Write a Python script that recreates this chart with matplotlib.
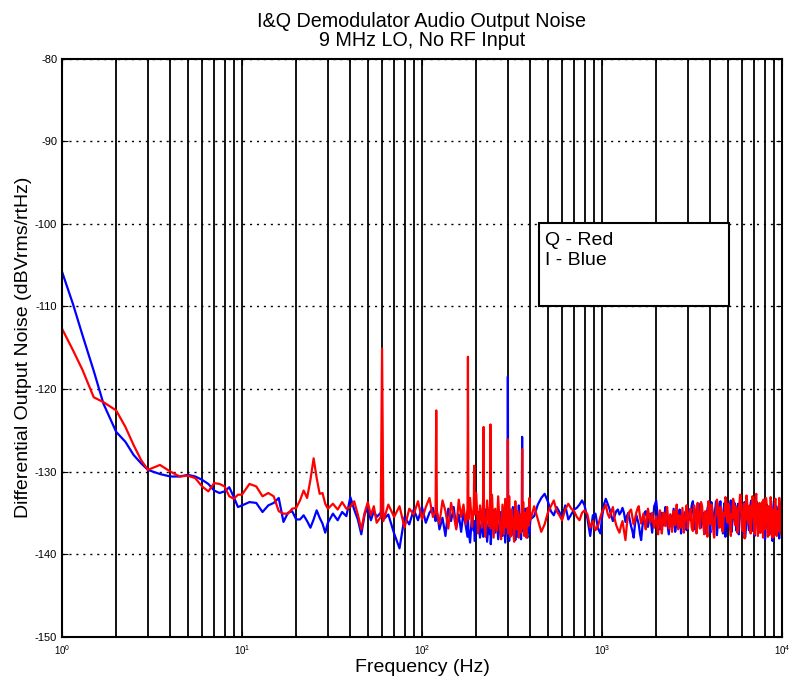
import matplotlib
matplotlib.use('Agg')
import matplotlib.pyplot as plt
from matplotlib.patches import Rectangle
from matplotlib.ticker import LogLocator, NullFormatter

plt.rcParams['font.family'] = ['Liberation Sans', 'DejaVu Sans']
plt.rcParams['mathtext.fontset'] = 'custom'
plt.rcParams['mathtext.rm'] = 'Liberation Sans'
plt.rcParams['mathtext.default'] = 'regular'
plt.rcParams['axes.unicode_minus'] = False

# --- data (Hz, dBVrms/rtHz) ---
# 1..20 Hz
freq_a = [1.0, 1.15, 1.3, 1.5, 1.7, 2.0, 2.25, 2.5, 2.75, 3.0, 3.5, 4.0, 4.5, 5.0, 5.5, 6.0, 6.5,
          7.0, 7.5, 8.0, 8.5, 9.0, 9.5, 10, 11, 12, 13, 14, 15, 16, 17, 18, 19, 20]
q_a = [-112.7, -115.3, -117.7, -121.0, -121.6, -122.6, -124.6, -126.8, -128.6, -129.8, -129.2,
       -130.0, -130.6, -130.5, -130.8, -131.8, -132.4, -131.4, -131.5, -131.8, -133.0, -133.3,
       -132.8, -132.8, -131.5, -131.8, -133.0, -132.6, -133.0, -134.8, -135.1, -135.1, -134.5, -134.4]
i_a = [-105.8, -109.7, -113.5, -117.8, -121.8, -125.2, -126.4, -128.0, -129.0, -129.8, -130.3,
       -130.6, -130.6, -130.4, -130.6, -131.0, -131.5, -132.3, -132.6, -132.4, -131.9, -133.1,
       -134.3, -134.1, -133.7, -133.8, -134.9, -134.1, -133.8, -133.2, -136.1, -135.0, -134.8, -135.8]

# 20..60 Hz
freq_b = [21, 22, 23, 24, 25, 26, 27, 28, 29, 30, 32, 34, 36, 38, 40, 42, 44, 46, 48, 50, 52, 54, 56]
q_b = [-133.5, -132.3, -133.2, -131.0, -128.4, -130.8, -132.7, -132.6, -133.9, -134.5, -133.9,
       -134.6, -133.7, -134.5, -134.3, -133.6, -135.2, -137.0, -135.0, -133.7, -135.3, -134.2, -136.2]
i_b = [-135.8, -135.3, -136.0, -136.8, -135.8, -134.7, -135.6, -136.3, -137.4, -136.2, -135.1,
       -135.9, -134.9, -135.4, -133.1, -134.6, -135.8, -137.6, -135.2, -134.3, -135.9, -134.8, -135.5]

# 60..400 Hz (mains harmonics)
freq_c = [59, 60, 61, 65, 70, 75, 80, 85, 90, 95, 100, 105, 110, 115, 119, 120, 121, 125, 130, 135,
          140, 145, 150, 155, 160, 165, 170, 175, 179, 180, 181, 185, 190, 194, 195, 196, 200, 205,
          210, 215, 219, 220, 221, 225, 230, 235, 239, 240, 241, 245, 250, 255, 260, 265, 270, 275,
          280, 285, 290, 295, 299, 300, 301, 305, 310, 315, 320, 325, 330, 335, 340, 345, 350, 355,
          359, 360, 361, 365, 370, 375, 380, 385, 390, 395, 400]
q_c = [-135.5, -115.1, -136.0, -134.0, -135.5, -134.2, -136.8, -134.5, -135.2, -133.6, -135.8,
       -134.3, -133.2, -135.5, -134.8, -122.6, -135.0, -136.3, -133.5, -134.8, -136.9, -133.8,
       -135.2, -137.0, -133.4, -135.5, -134.0, -136.4, -134.5, -116.1, -135.8, -133.2, -136.7,
       -134.0, -129.3, -135.2, -132.6, -137.5, -134.1, -136.8, -133.0, -124.6, -135.4, -137.9,
       -133.5, -136.6, -134.2, -124.3, -136.9, -132.8, -138.0, -134.5, -137.2, -133.0, -136.5,
       -138.2, -134.0, -137.6, -133.3, -136.8, -134.4, -126.1, -137.5, -133.0, -137.9, -134.6,
       -136.2, -138.5, -133.6, -137.0, -134.8, -138.0, -135.2, -137.4, -134.1, -127.3, -136.8,
       -133.7, -137.8, -135.0, -138.0, -134.4, -136.6, -133.2, -135.9]
i_c = [-135.0, -134.0, -135.8, -135.2, -137.5, -139.3, -135.5, -136.4, -134.6, -135.9, -134.3,
       -136.2, -135.0, -134.4, -136.0, -135.2, -134.7, -137.0, -135.6, -137.8, -134.5, -136.0,
       -134.3, -136.8, -135.2, -137.3, -134.9, -136.6, -137.9, -135.5, -136.9, -138.6, -135.0,
       -137.2, -136.0, -138.4, -136.8, -134.9, -138.0, -136.1, -137.9, -135.3, -137.0, -134.6,
       -138.5, -136.2, -137.6, -135.8, -138.8, -136.4, -134.7, -137.4, -135.5, -138.2, -136.3,
       -134.9, -137.8, -135.2, -138.6, -136.0, -137.3, -118.5, -136.6, -138.4, -135.0, -137.7,
       -134.3, -136.9, -138.3, -135.6, -137.9, -134.1, -136.8, -138.2, -136.0, -125.8, -137.2,
       -134.9, -137.6, -134.5, -136.9, -138.0, -135.3, -137.4, -135.8]

# 400..1000 Hz
freq_d = [420, 440, 460, 480, 500, 520, 540, 560, 580, 600, 625, 650, 675, 700, 725, 750, 775,
          800, 830, 860, 890, 920, 950, 980, 1000]
q_d = [-134.2, -135.8, -137.3, -136.4, -135.0, -134.2, -133.5, -134.8, -135.3, -135.9, -134.6,
       -133.9, -134.5, -134.8, -135.5, -135.9, -135.0, -134.7, -135.2, -136.8, -136.0, -137.1,
       -136.6, -135.5, -134.9]
i_d = [-135.4, -134.0, -133.2, -132.7, -133.6, -134.8, -135.3, -134.3, -134.9, -135.6, -134.1,
       -135.8, -135.2, -134.6, -134.4, -134.0, -133.5, -134.1, -135.7, -137.8, -135.3, -135.1,
       -136.9, -137.5, -135.6]

# 1 kHz..3 kHz
freq_e = [1025, 1050, 1075, 1100, 1125, 1150, 1175, 1200, 1225, 1250,
          1275, 1300, 1325, 1350, 1375, 1400, 1425, 1450, 1475, 1500,
          1525, 1550, 1575, 1600, 1625, 1650, 1675, 1700, 1725, 1750,
          1775, 1800, 1825, 1850, 1875, 1900, 1925, 1950, 1975, 2000,
          2025, 2050, 2075, 2100, 2125, 2150, 2175, 2200, 2225, 2250,
          2275, 2300, 2325, 2350, 2375, 2400, 2425, 2450, 2475, 2500,
          2525, 2550, 2575, 2600, 2625, 2650, 2675, 2700, 2725, 2750,
          2775, 2800, 2825, 2850, 2875, 2900, 2925, 2950, 2975, 3000]
q_e = [-134.5, -134.0, -135.1, -135.6, -134.9, -134.3, -135.7, -136.5, -137.0, -137.4,
       -136.6, -136.0, -137.2, -138.3, -136.4, -135.2, -134.8, -134.6, -135.5, -136.4,
       -135.8, -135.0, -134.5, -134.2, -135.4, -136.3, -135.7, -135.1, -136.0, -137.0,
       -135.6, -134.5, -135.3, -136.2, -135.8, -135.0, -136.1, -136.8, -136.0, -135.4,
       -136.4, -137.6, -135.9, -134.7, -136.0, -137.5, -136.3, -135.0, -135.7, -136.6,
       -135.2, -134.3, -135.5, -136.9, -136.0, -135.2, -136.3, -137.3, -135.9, -134.8,
       -135.5, -136.5, -135.1, -134.0, -135.6, -137.0, -136.2, -135.3, -135.9, -136.8,
       -135.5, -134.4, -135.8, -137.4, -136.3, -135.6, -134.8, -134.1, -135.5, -136.9]
i_e = [-134.0, -133.3, -133.9, -134.5, -135.3, -136.0, -135.4, -134.8, -134.6, -135.2,
       -134.9, -134.4, -135.0, -136.1, -135.4, -135.0, -135.8, -136.6, -137.2, -138.0,
       -136.4, -135.3, -135.8, -136.4, -137.5, -138.3, -136.8, -135.6, -135.0, -134.8,
       -135.6, -136.7, -135.9, -135.1, -136.2, -137.4, -135.8, -134.2, -133.9, -133.5,
       -134.6, -135.8, -136.5, -137.0, -136.1, -135.0, -135.8, -136.5, -135.4, -134.3,
       -135.1, -136.1, -136.9, -137.6, -136.4, -135.2, -136.0, -136.8, -135.6, -134.5,
       -135.9, -137.3, -136.6, -135.7, -136.2, -136.9, -135.8, -134.6, -135.9, -137.5,
       -136.5, -135.4, -135.9, -136.6, -135.8, -134.9, -135.9, -137.1, -136.6, -135.8]

# 3 kHz..10 kHz
freq_f = [3050, 3100, 3150, 3200, 3250, 3300, 3350, 3400, 3450, 3500,
          3550, 3600, 3650, 3700, 3750, 3800, 3850, 3900, 3950, 4000,
          4050, 4100, 4150, 4200, 4250, 4300, 4350, 4400, 4450, 4500,
          4550, 4600, 4650, 4700, 4750, 4800, 4850, 4900, 4950, 5000,
          5050, 5100, 5150, 5200, 5250, 5300, 5350, 5400, 5450, 5500,
          5550, 5600, 5650, 5700, 5750, 5800, 5850, 5900, 5950, 6000,
          6050, 6100, 6150, 6200, 6250, 6300, 6350, 6400, 6450, 6500,
          6550, 6600, 6650, 6700, 6750, 6800, 6850, 6900, 6950, 7000,
          7050, 7100, 7150, 7200, 7250, 7300, 7350, 7400, 7450, 7500,
          7550, 7600, 7650, 7700, 7750, 7800, 7850, 7900, 7950, 8000,
          8050, 8100, 8150, 8200, 8250, 8300, 8350, 8400, 8450, 8500,
          8550, 8600, 8650, 8700, 8750, 8800, 8850, 8900, 8950, 9000,
          9050, 9100, 9150, 9200, 9250, 9300, 9350, 9400, 9450, 9500,
          9550, 9600, 9650, 9700, 9750, 9800, 9850, 9900, 9950, 10000]
q_f = [-135.2, -134.5, -136.8, -137.2, -134.1, -135.0, -137.5, -133.8, -135.9, -136.9,
       -133.7, -134.2, -136.3, -137.6, -134.8, -135.3, -137.9, -133.6, -135.1, -136.4,
       -134.0, -134.9, -137.0, -138.0, -135.6, -135.1, -133.4, -133.9, -136.5, -136.8,
       -134.3, -134.6, -137.1, -137.3, -135.0, -135.4, -133.1, -133.4, -135.8, -136.2,
       -133.9, -134.3, -136.9, -137.8, -135.2, -135.6, -133.3, -133.7, -135.9, -136.5,
       -134.2, -134.8, -137.4, -137.1, -134.5, -134.0, -132.8, -132.9, -135.3, -136.7,
       -137.2, -135.2, -133.9, -138.1, -136.0, -134.4, -132.9, -133.5, -135.8, -136.3,
       -134.6, -134.1, -136.9, -137.5, -135.7, -135.0, -133.0, -133.2, -135.4, -136.6,
       -137.6, -134.7, -133.0, -132.7, -134.8, -136.9, -137.8, -135.3, -134.1, -133.8,
       -135.9, -137.4, -136.2, -134.5, -133.7, -136.1, -138.0, -133.4, -134.9, -137.0,
       -136.3, -135.1, -133.2, -133.6, -135.5, -136.8, -137.9, -134.2, -135.0, -137.7,
       -136.1, -135.5, -133.1, -133.9, -135.7, -136.4, -138.0, -134.6, -135.2, -137.9,
       -136.6, -135.0, -133.5, -133.3, -134.9, -136.7, -137.8, -134.8, -135.6, -137.2,
       -136.8, -135.4, -133.2, -133.8, -135.9, -136.3, -137.6, -134.9, -135.1, -136.0]
i_f = [-134.6, -135.9, -134.1, -133.6, -137.0, -136.2, -135.4, -134.0, -133.9, -136.5,
       -136.8, -134.9, -135.1, -137.3, -137.5, -135.8, -134.6, -133.9, -136.2, -137.4,
       -133.7, -134.5, -136.9, -135.8, -134.8, -133.6, -137.7, -136.4, -135.3, -134.1,
       -133.6, -135.2, -136.4, -137.5, -134.4, -133.8, -137.9, -136.6, -135.0, -134.3,
       -136.7, -135.4, -134.0, -133.5, -137.3, -136.1, -135.6, -134.6, -133.8, -135.9,
       -136.5, -137.2, -134.7, -133.9, -137.6, -136.0, -135.2, -134.1, -133.9, -135.5,
       -136.3, -137.5, -134.5, -133.7, -138.0, -136.9, -135.7, -134.9, -134.2, -135.8,
       -137.1, -136.0, -135.0, -133.8, -133.5, -135.9, -136.6, -137.2, -134.9, -134.0,
       -137.8, -136.3, -135.4, -134.2, -133.7, -135.5, -136.9, -137.3, -134.3, -133.9,
       -137.4, -136.5, -135.8, -134.0, -133.9, -135.3, -136.1, -137.4, -134.6, -134.2,
       -138.2, -136.7, -135.5, -134.3, -134.0, -135.6, -136.8, -137.0, -135.1, -134.4,
       -137.5, -136.2, -134.4, -133.6, -136.3, -137.8, -138.4, -136.5, -135.3, -134.1,
       -133.8, -135.0, -136.7, -137.6, -135.0, -134.2, -137.3, -136.0, -134.6, -135.4,
       -136.0, -137.3, -138.1, -136.2, -135.2, -134.0, -134.3, -135.5, -134.5, -133.1]

freq = freq_a + freq_b + freq_c + freq_d + freq_e + freq_f
q_red = q_a + q_b + q_c + q_d + q_e + q_f
i_blue = i_a + i_b + i_c + i_d + i_e + i_f

y_ticks = [-150, -140, -130, -120, -110, -100, -90, -80]

fig = plt.figure(figsize=(7.93, 6.83), dpi=100)
ax = fig.add_axes([0.0782, 0.0678, 0.9079, 0.8463])

ax.plot(freq, i_blue, color='#0000ff', lw=1.6, zorder=2)
ax.plot(freq, q_red, color='#ff0000', lw=1.6, zorder=2.1)

ax.set_xscale('log')
ax.set_xlim(1, 1e4)
ax.set_ylim(-150, -80)
ax.set_yticks(y_ticks)
ax.xaxis.set_minor_locator(LogLocator(base=10, subs=range(2, 10)))
ax.xaxis.set_minor_formatter(NullFormatter())

# matlab style grid: solid verticals, dotted horizontals
ax.grid(axis='x', which='both', color='black', lw=1.3)
ax.grid(axis='y', which='major', color='black', lw=1.0, linestyle=(0, (1.5, 3.5)))
ax.set_axisbelow(True)

ax.tick_params(axis='both', which='both', direction='in', top=True, right=True)
ax.tick_params(axis='y', labelsize=8, length=4, pad=3.5)
ax.tick_params(axis='x', labelsize=7, length=4, pad=5)
for s in ax.spines.values():
    s.set_linewidth(1.5)

ax.set_title('I&Q Demodulator Audio Output Noise\n9 MHz LO, No RF Input',
             fontsize=14.2, pad=9, linespacing=0.98)
ax.set_xlabel('Frequency (Hz)', fontsize=14, labelpad=1)
ax.set_ylabel('Differential Output Noise (dBVrms/rtHz)', fontsize=14, labelpad=2)

# hand drawn legend box
ax.add_patch(Rectangle((0.6625, 0.5721), 0.2635, 0.1431, transform=ax.transAxes,
                       facecolor='white', edgecolor='black', lw=1.5, zorder=3))
ax.text(0.6715, 0.6777, 'Q - Red', transform=ax.transAxes, fontsize=14, zorder=4)
ax.text(0.6715, 0.643, 'I - Blue', transform=ax.transAxes, fontsize=14, zorder=4)

fig.savefig('out.png', dpi=100)
